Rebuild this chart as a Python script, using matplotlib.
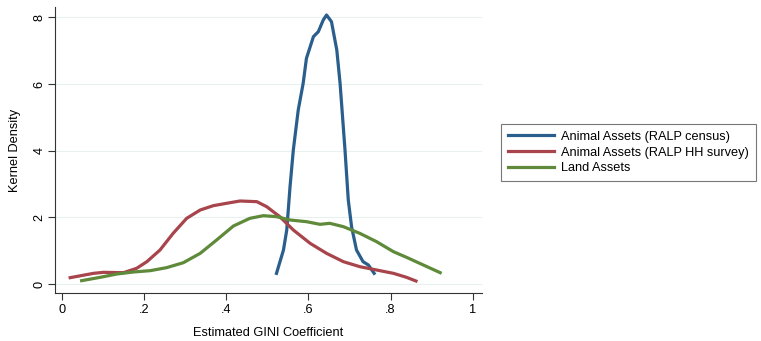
import matplotlib.pyplot as plt

plt.rcParams['font.family'] = ['Liberation Sans', 'DejaVu Sans']

# kernel density curves
census_x = [0.522, 0.539, 0.547, 0.555, 0.563, 0.575, 0.587, 0.595, 0.612, 0.624, 0.636,
            0.644, 0.656, 0.669, 0.677, 0.689, 0.697, 0.705, 0.717, 0.733, 0.746, 0.760]
census_y = [0.32, 1.02, 1.62, 2.92, 4.02, 5.22, 6.02, 6.77, 7.42, 7.57, 7.92,
            8.07, 7.87, 7.02, 6.02, 4.02, 2.52, 1.72, 1.02, 0.67, 0.57, 0.32]

hh_x = [0.019, 0.076, 0.10, 0.149, 0.181, 0.206, 0.238, 0.27, 0.303, 0.336, 0.368, 0.409,
        0.433, 0.474, 0.498, 0.53, 0.563, 0.604, 0.644, 0.685, 0.725, 0.766, 0.807, 0.839, 0.862]
hh_y = [0.19, 0.32, 0.35, 0.34, 0.47, 0.67, 1.02, 1.52, 1.97, 2.22, 2.35, 2.44,
        2.49, 2.47, 2.32, 2.02, 1.62, 1.22, 0.92, 0.67, 0.52, 0.42, 0.32, 0.20, 0.09]

land_x = [0.047, 0.092, 0.133, 0.173, 0.214, 0.254, 0.295, 0.336, 0.376, 0.417, 0.457, 0.490,
          0.522, 0.555, 0.595, 0.628, 0.652, 0.685, 0.725, 0.766, 0.807, 0.839, 0.88, 0.921]
land_y = [0.10, 0.20, 0.30, 0.36, 0.40, 0.49, 0.64, 0.92, 1.32, 1.74, 1.97, 2.05,
          2.02, 1.92, 1.87, 1.79, 1.82, 1.72, 1.52, 1.27, 0.97, 0.80, 0.57, 0.34]

labels = ['Animal Assets (RALP census)', 'Animal Assets (RALP HH survey)', 'Land Assets']
xticks = [0, 0.2, 0.4, 0.6, 0.8, 1]
xticklabels = ['0', '.2', '.4', '.6', '.8', '1']
yticks = [0, 2, 4, 6, 8]

fs = 9.2
fig = plt.figure(figsize=(7.61, 3.41), dpi=100)
ax = fig.add_axes([55/761, 1 - 293/341, (482 - 55)/761, (293 - 7)/341])

ax.plot(census_x, census_y, color='#2a5e8c', lw=2.3, label=labels[0], solid_joinstyle='round')
ax.plot(hh_x, hh_y, color='#a8444b', lw=2.3, label=labels[1], solid_joinstyle='round')
ax.plot(land_x, land_y, color='#5e8a3a', lw=2.3, label=labels[2], solid_joinstyle='round')

ax.set_xlim(-0.018, 1.023)
ax.set_ylim(-0.27, 8.31)
ax.set_xticks(xticks)
ax.set_xticklabels(xticklabels)
ax.set_yticks(yticks)
ax.set_yticklabels([str(v) for v in yticks], rotation=90, va='center')
ax.tick_params(labelsize=fs, length=5, width=0.8, color='#333333', pad=3)
ax.tick_params(axis='y', pad=2)
ax.grid(axis='y', color='#e8f0f0', lw=0.8)
ax.set_axisbelow(True)
for s in ['top', 'right']:
    ax.spines[s].set_visible(False)
for s in ['left', 'bottom']:
    ax.spines[s].set_color('#333333')
    ax.spines[s].set_linewidth(0.8)

ax.set_xlabel('Estimated GINI Coefficient', fontsize=fs, labelpad=8)
ax.set_ylabel('Kernel Density', fontsize=fs, labelpad=9)

leg = fig.legend(loc='upper left', bbox_to_anchor=(495/761, 1 - 118/341), fontsize=fs,
                 frameon=True, fancybox=False, handlelength=3.6, handletextpad=0.6,
                 labelspacing=0.3, borderpad=0.5)
leg.get_frame().set_edgecolor('#555555')
leg.get_frame().set_linewidth(0.8)

fig.savefig('out.png', dpi=100, facecolor='white')
